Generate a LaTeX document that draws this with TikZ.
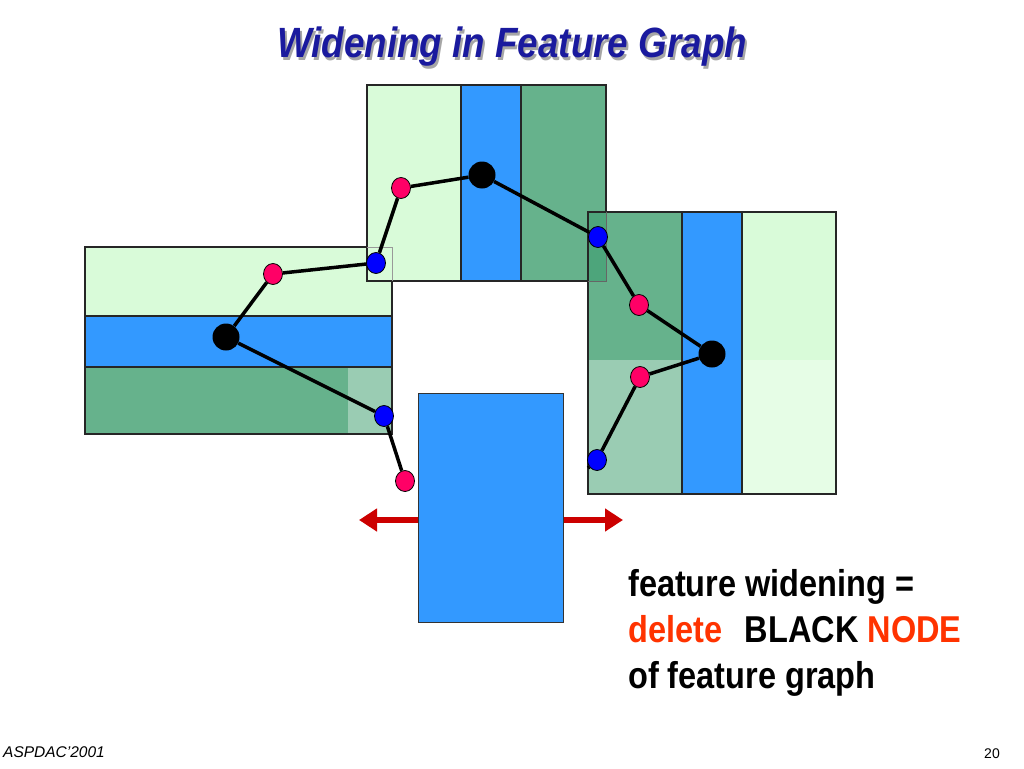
\documentclass[tikz,border=0pt]{standalone}
\usepackage{fontspec}
\setmainfont{Liberation Sans}
\usetikzlibrary{shapes.geometric,arrows.meta}
\definecolor{lgreen}{HTML}{D9FBD9}
\definecolor{xgreen}{HTML}{E6FDE6}
\definecolor{dgreen}{HTML}{66B28C}
\definecolor{pgreen}{HTML}{9ACCB3}
\definecolor{ogreen}{HTML}{4DA57B}
\definecolor{fblue}{HTML}{3399FF}
\definecolor{tblue}{HTML}{1A1A9E}
\definecolor{pinkc}{HTML}{FF0066}
\definecolor{arrred}{HTML}{CC0000}
\definecolor{txtred}{HTML}{FF3300}
\begin{document}
\begin{tikzpicture}[x=1pt,y=-1pt,
  rednode/.style={ellipse,draw,line width=0.8pt,fill=pinkc,minimum width=19pt,minimum height=21pt,inner sep=0pt},
  bluenode/.style={ellipse,draw,line width=0.8pt,fill=blue,minimum width=19pt,minimum height=21pt,inner sep=0pt},
  blacknode/.style={circle,fill=black,minimum size=27pt,inner sep=0pt},
  link/.style={line width=3.5pt},
  edge/.style={line width=1.2pt,black!85},
  push/.style={arrred,line width=6pt,-{Triangle[length=18pt,width=22pt]}},
  bigtext/.style={font=\fontsize{32.5}{36}\selectfont\bfseries,yscale=1.15,inner sep=0pt}]
  \useasboundingbox[fill=white] (0,0) rectangle (1024,768);
  % title
  \node[gray!70,anchor=base,font=\fontsize{36.8}{40}\selectfont\bfseries\itshape,yscale=1.15] (shadow) at (514,60) {Widening in Feature Graph};
  \node[tblue,anchor=base,font=\fontsize{36.8}{40}\selectfont\bfseries\itshape,yscale=1.15] (title) at (512,58) {Widening in Feature Graph};
  % left block
  \fill[lgreen] (85,247) rectangle (392,316);
  \fill[fblue] (85,316) rectangle (392,367);
  \fill[dgreen] (85,367) rectangle (348,434);
  \fill[pgreen] (348,367) rectangle (392,434);
  \draw[edge] (85,247) rectangle (392,434);
  \draw[edge] (85,316) -- (392,316);
  \draw[edge] (85,367) -- (392,367);
  % top block
  \fill[lgreen] (367,85) rectangle (461,281);
  \fill[fblue] (461,85) rectangle (521,281);
  \fill[dgreen] (521,85) rectangle (606,281);
  \draw[edge] (367,85) rectangle (606,281);
  \draw[edge] (461,85) -- (461,281);
  \draw[edge] (521,85) -- (521,281);
  \draw[black!40,line width=1pt] (367,247) -- (392,247) -- (392,281);
  % right block
  \fill[dgreen] (588,212) rectangle (682,360);
  \fill[pgreen] (588,360) rectangle (682,494);
  \fill[fblue] (682,212) rectangle (742,494);
  \fill[lgreen] (742,212) rectangle (836,360);
  \fill[xgreen] (742,360) rectangle (836,494);
  \fill[ogreen] (588,212) rectangle (606,281);
  \draw[edge] (588,212) rectangle (836,494);
  \draw[edge] (682,212) -- (682,494);
  \draw[edge] (742,212) -- (742,494);
  \draw[black!60,line width=1pt] (606,212) -- (606,281) -- (588,281);
  % widened feature
  \node[draw=black!80,line width=1pt,fill=fblue,minimum width=145pt,minimum height=229pt,inner sep=0pt] (wide) at (490.5,507.5) {};
  \coordinate (lt) at (359,520);
  \coordinate (rt) at (623,520);
  \draw[push] (wide.west |- lt) -- (lt);
  \draw[push] (wide.east |- rt) -- (rt);
  % feature graph
  \node[rednode] (lq) at (405,481) {};
  \node[bluenode] (lb) at (384,416) {};
  \node[blacknode] (lk) at (226,337) {};
  \node[rednode] (lp) at (273,274) {};
  \node[bluenode] (tb) at (376,263) {};
  \node[rednode] (tp) at (401,188) {};
  \node[blacknode] (tk) at (482,175) {};
  \node[bluenode] (tr) at (598,237) {};
  \node[rednode] (rp) at (639,305) {};
  \node[blacknode] (rk) at (712,354) {};
  \node[rednode] (rq) at (640,377) {};
  \node[bluenode] (rb) at (597,460) {};
  \coordinate (stub) at (588,468);
  \draw[link] (lq) -- (lb) -- (lk) -- (lp) -- (tb) -- (tp) -- (tk) -- (tr)
    -- (rp) -- (rk) -- (rq) -- (rb) -- (stub);
  % note
  \node[bigtext,anchor=base west] (l1) at (628,596) {feature widening =};
  \node[bigtext,anchor=base west] (l2) at ([yshift=-46pt]l1.base west) {\textcolor{txtred}{delete}\hspace{0.7em}BLACK \textcolor{txtred}{NODE}};
  \node[bigtext,anchor=base west] (l3) at ([yshift=-46pt]l2.base west) {of feature graph};
  % footer
  \node[anchor=base west,font=\fontsize{15.5}{18}\selectfont\itshape,inner sep=0pt] (conf) at (3,757) {ASPDAC’2001};
  \node[anchor=base east,font=\fontsize{14}{16}\selectfont,inner sep=0pt] (page) at (1000,758) {20};
\end{tikzpicture}
\end{document}
